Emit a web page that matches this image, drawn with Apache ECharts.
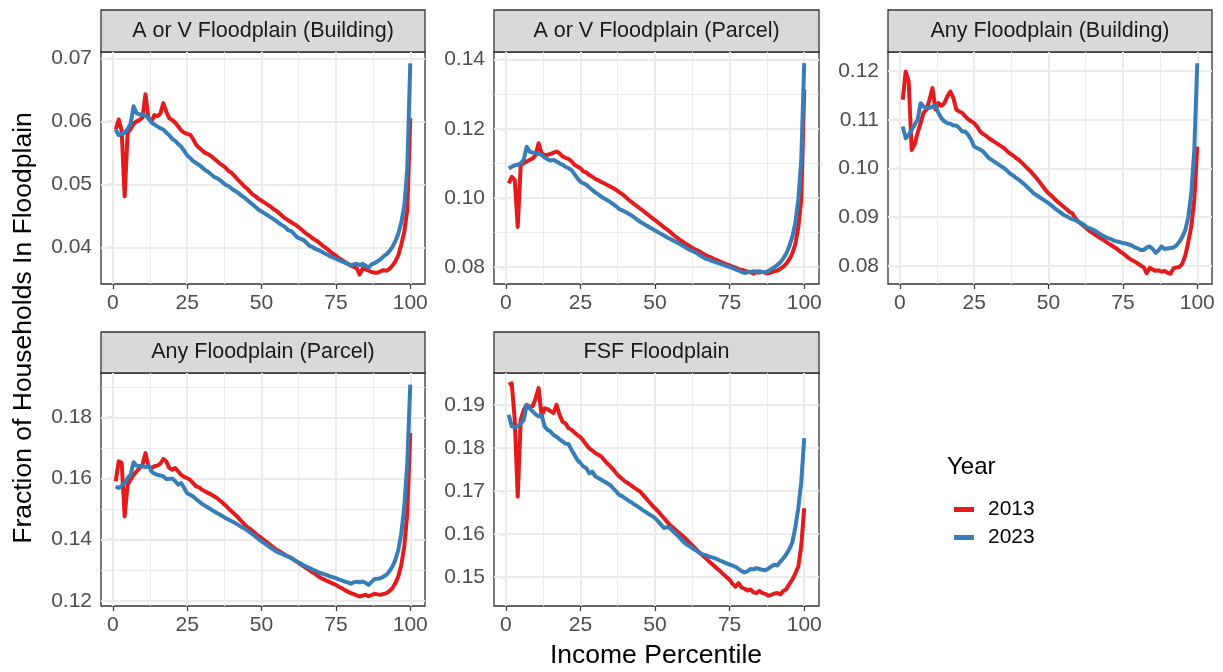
<!DOCTYPE html>
<html>
<head>
<meta charset="utf-8">
<title>Floodplain by income percentile</title>
<script src="https://cdn.jsdelivr.net/npm/echarts@6/dist/echarts.min.js"></script>
<style>
  html, body { margin: 0; padding: 0; background: #fff; }
  #chart { width: 1223px; height: 672px; }
</style>
</head>
<body>
<div id="chart"></div>
<script>
// income percentile (x)
const percentile = [
  1, 2, 3, 4, 5, 6, 7, 8, 9, 10, 11, 12, 13, 14, 15, 16, 17, 18, 19, 20,
  21, 22, 23, 24, 25, 26, 27, 28, 29, 30, 31, 32, 33, 34, 35, 36, 37, 38, 39, 40,
  41, 42, 43, 44, 45, 46, 47, 48, 49, 50, 51, 52, 53, 54, 55, 56, 57, 58, 59, 60,
  61, 62, 63, 64, 65, 66, 67, 68, 69, 70, 71, 72, 73, 74, 75, 76, 77, 78, 79, 80,
  81, 82, 83, 84, 85, 86, 87, 88, 89, 90, 91, 92, 93, 94, 95, 96, 97, 98, 99, 100
]
const years = ['2013', '2023']
const panelTitles = ['A or V Floodplain (Building)', 'A or V Floodplain (Parcel)', 'Any Floodplain (Building)', 'Any Floodplain (Parcel)', 'FSF Floodplain']

const xTicks = [0, 25, 50, 75, 100]
const xMinor = [12.5, 37.5, 62.5, 87.5]
const yTicks = [
  [0.04, 0.05, 0.06, 0.07],
  [0.08, 0.10, 0.12, 0.14],
  [0.08, 0.09, 0.10, 0.11, 0.12],
  [0.12, 0.14, 0.16, 0.18],
  [0.15, 0.16, 0.17, 0.18, 0.19]
]
const yMinor = [
  [0.035, 0.045, 0.055, 0.065],
  [0.09, 0.11, 0.13],
  [0.085, 0.095, 0.105, 0.115],
  [0.13, 0.15, 0.17, 0.19],
  [0.145, 0.155, 0.165, 0.175, 0.185, 0.195]
]
const yRanges = [[0.0342, 0.0710], [0.0751, 0.1422], [0.0763, 0.1239], [0.1183, 0.1945], [0.1433, 0.1974]]

const aovBuilding2013 = [
  0.0587, 0.0603, 0.0585, 0.0481, 0.0582, 0.0588, 0.0596, 0.0600, 0.0602, 0.0606,
  0.0643, 0.0605, 0.0600, 0.0610, 0.0608, 0.0612, 0.0629, 0.0615, 0.0605, 0.0602,
  0.0598, 0.0592, 0.0586, 0.0582, 0.0580, 0.0579, 0.0572, 0.0563, 0.0558, 0.0554,
  0.0550, 0.0548, 0.0545, 0.0541, 0.0537, 0.0533, 0.0530, 0.0526, 0.0521, 0.0518,
  0.0513, 0.0508, 0.0503, 0.0498, 0.0494, 0.0489, 0.0484, 0.0481, 0.0477, 0.0474,
  0.0471, 0.0468, 0.0465, 0.0461, 0.0458, 0.0454, 0.0450, 0.0446, 0.0443, 0.0440,
  0.0437, 0.0434, 0.0430, 0.0426, 0.0422, 0.0419, 0.0415, 0.0412, 0.0409, 0.0405,
  0.0401, 0.0398, 0.0394, 0.0390, 0.0387, 0.0383, 0.0380, 0.0377, 0.0374, 0.0371,
  0.0369, 0.0367, 0.0357, 0.0367, 0.0365, 0.0363, 0.0361, 0.0360, 0.0360, 0.0362,
  0.0364, 0.0363, 0.0366, 0.0371, 0.0378, 0.0388, 0.0405, 0.0425, 0.0460, 0.0605
]
const aovBuilding2023 = [
  0.0587, 0.0578, 0.0580, 0.0582, 0.0588, 0.0596, 0.0624, 0.0613, 0.0611, 0.0611,
  0.0609, 0.0605, 0.0598, 0.0595, 0.0592, 0.0589, 0.0587, 0.0582, 0.0578, 0.0572,
  0.0569, 0.0564, 0.0560, 0.0553, 0.0546, 0.0542, 0.0537, 0.0534, 0.0531, 0.0527,
  0.0523, 0.0520, 0.0516, 0.0512, 0.0510, 0.0507, 0.0503, 0.0499, 0.0497, 0.0493,
  0.0490, 0.0487, 0.0483, 0.0480, 0.0476, 0.0472, 0.0468, 0.0464, 0.0460, 0.0457,
  0.0454, 0.0451, 0.0448, 0.0445, 0.0442, 0.0438, 0.0435, 0.0432, 0.0427, 0.0426,
  0.0421, 0.0416, 0.0414, 0.0412, 0.0408, 0.0403, 0.0401, 0.0398, 0.0396, 0.0394,
  0.0391, 0.0389, 0.0386, 0.0384, 0.0382, 0.0380, 0.0378, 0.0376, 0.0374, 0.0372,
  0.0373, 0.0374, 0.0372, 0.0374, 0.0371, 0.0368, 0.0373, 0.0375, 0.0378, 0.0381,
  0.0386, 0.0389, 0.0394, 0.0401, 0.0410, 0.0422, 0.0440, 0.0466, 0.0525, 0.0692
]
const aovParcel2013 = [
  0.1042, 0.1061, 0.1052, 0.0916, 0.1095, 0.1100, 0.1105, 0.1110, 0.1114, 0.1124,
  0.1158, 0.1129, 0.1124, 0.1125, 0.1127, 0.1131, 0.1134, 0.1129, 0.1120, 0.1116,
  0.1113, 0.1106, 0.1096, 0.1091, 0.1086, 0.1077, 0.1073, 0.1066, 0.1061, 0.1055,
  0.1051, 0.1046, 0.1042, 0.1037, 0.1033, 0.1028, 0.1023, 0.1017, 0.1011, 0.1004,
  0.0996, 0.0989, 0.0982, 0.0976, 0.0969, 0.0963, 0.0956, 0.0949, 0.0942, 0.0936,
  0.0929, 0.0922, 0.0915, 0.0909, 0.0902, 0.0894, 0.0887, 0.0881, 0.0875, 0.0869,
  0.0864, 0.0858, 0.0853, 0.0849, 0.0845, 0.0839, 0.0834, 0.0830, 0.0827, 0.0822,
  0.0819, 0.0815, 0.0811, 0.0808, 0.0805, 0.0801, 0.0798, 0.0794, 0.0792, 0.0790,
  0.0787, 0.0785, 0.0781, 0.0785, 0.0784, 0.0786, 0.0783, 0.0782, 0.0785, 0.0788,
  0.0790, 0.0795, 0.0801, 0.0810, 0.0822, 0.0839, 0.0866, 0.0914, 0.0994, 0.1313
]
const aovParcel2023 = [
  0.1085, 0.1090, 0.1094, 0.1096, 0.1100, 0.1110, 0.1148, 0.1134, 0.1131, 0.1129,
  0.1128, 0.1124, 0.1117, 0.1112, 0.1108, 0.1110, 0.1105, 0.1100, 0.1096, 0.1090,
  0.1086, 0.1081, 0.1069, 0.1057, 0.1047, 0.1042, 0.1038, 0.1030, 0.1023, 0.1016,
  0.1010, 0.1004, 0.0998, 0.0993, 0.0988, 0.0982, 0.0975, 0.0968, 0.0964, 0.0960,
  0.0955, 0.0950, 0.0944, 0.0937, 0.0931, 0.0926, 0.0921, 0.0916, 0.0911, 0.0906,
  0.0901, 0.0896, 0.0891, 0.0886, 0.0882, 0.0877, 0.0873, 0.0868, 0.0863, 0.0858,
  0.0853, 0.0848, 0.0845, 0.0840, 0.0834, 0.0829, 0.0824, 0.0822, 0.0818, 0.0815,
  0.0812, 0.0809, 0.0806, 0.0803, 0.0800, 0.0797, 0.0793, 0.0790, 0.0786, 0.0783,
  0.0785, 0.0786, 0.0788, 0.0787, 0.0788, 0.0786, 0.0785, 0.0789, 0.0794, 0.0800,
  0.0806, 0.0814, 0.0825, 0.0839, 0.0860, 0.0887, 0.0926, 0.0994, 0.1110, 0.1390
]
const anyBuilding2013 = [
  0.1141, 0.1199, 0.1179, 0.1038, 0.1049, 0.1073, 0.1093, 0.1114, 0.1121, 0.1141,
  0.1165, 0.1121, 0.1134, 0.1129, 0.1134, 0.1148, 0.1158, 0.1145, 0.1121, 0.1117,
  0.1114, 0.1107, 0.1101, 0.1097, 0.1093, 0.1086, 0.1076, 0.1071, 0.1067, 0.1062,
  0.1058, 0.1054, 0.1050, 0.1046, 0.1042, 0.1036, 0.1031, 0.1027, 0.1022, 0.1018,
  0.1012, 0.1006, 0.1000, 0.0994, 0.0987, 0.0980, 0.0972, 0.0964, 0.0956, 0.0949,
  0.0944, 0.0938, 0.0932, 0.0927, 0.0922, 0.0917, 0.0911, 0.0908, 0.0898, 0.0891,
  0.0886, 0.0881, 0.0876, 0.0871, 0.0867, 0.0863, 0.0859, 0.0855, 0.0851, 0.0847,
  0.0843, 0.0839, 0.0835, 0.0830, 0.0826, 0.0821, 0.0816, 0.0812, 0.0809, 0.0805,
  0.0801, 0.0797, 0.0785, 0.0796, 0.0793, 0.0790, 0.0791, 0.0788, 0.0790, 0.0786,
  0.0784, 0.0795, 0.0797, 0.0798, 0.0805, 0.0822, 0.0850, 0.0881, 0.0936, 0.1045
]
const anyBuilding2023 = [
  0.1086, 0.1062, 0.1069, 0.1079, 0.1090, 0.1100, 0.1134, 0.1127, 0.1124, 0.1124,
  0.1127, 0.1129, 0.1114, 0.1103, 0.1097, 0.1093, 0.1092, 0.1088, 0.1088, 0.1083,
  0.1076, 0.1076, 0.1069, 0.1059, 0.1045, 0.1042, 0.1039, 0.1035, 0.1028, 0.1021,
  0.1017, 0.1013, 0.1009, 0.1005, 0.1001, 0.0996, 0.0990, 0.0986, 0.0981, 0.0977,
  0.0972, 0.0967, 0.0961, 0.0955, 0.0949, 0.0945, 0.0941, 0.0937, 0.0933, 0.0929,
  0.0924, 0.0919, 0.0914, 0.0910, 0.0905, 0.0902, 0.0899, 0.0896, 0.0894, 0.0891,
  0.0888, 0.0884, 0.0879, 0.0877, 0.0874, 0.0871, 0.0867, 0.0863, 0.0860, 0.0857,
  0.0855, 0.0852, 0.0850, 0.0849, 0.0847, 0.0846, 0.0844, 0.0842, 0.0838, 0.0836,
  0.0833, 0.0833, 0.0838, 0.0840, 0.0835, 0.0827, 0.0832, 0.0840, 0.0835, 0.0836,
  0.0837, 0.0838, 0.0842, 0.0850, 0.0860, 0.0874, 0.0901, 0.0949, 0.1038, 0.1216
]
const anyParcel2013 = [
  0.1591, 0.1656, 0.1651, 0.1476, 0.1580, 0.1596, 0.1612, 0.1623, 0.1634, 0.1645,
  0.1683, 0.1640, 0.1634, 0.1640, 0.1642, 0.1648, 0.1664, 0.1656, 0.1634, 0.1629,
  0.1634, 0.1623, 0.1612, 0.1605, 0.1601, 0.1596, 0.1585, 0.1574, 0.1571, 0.1563,
  0.1558, 0.1553, 0.1548, 0.1542, 0.1536, 0.1528, 0.1520, 0.1511, 0.1501, 0.1492,
  0.1483, 0.1474, 0.1463, 0.1453, 0.1443, 0.1436, 0.1428, 0.1420, 0.1412, 0.1405,
  0.1397, 0.1390, 0.1382, 0.1375, 0.1367, 0.1362, 0.1356, 0.1350, 0.1345, 0.1340,
  0.1333, 0.1327, 0.1320, 0.1314, 0.1307, 0.1301, 0.1294, 0.1288, 0.1281, 0.1274,
  0.1270, 0.1265, 0.1261, 0.1256, 0.1252, 0.1246, 0.1241, 0.1235, 0.1230, 0.1225,
  0.1222, 0.1218, 0.1214, 0.1217, 0.1220, 0.1215, 0.1219, 0.1223, 0.1221, 0.1220,
  0.1222, 0.1225, 0.1232, 0.1241, 0.1258, 0.1280, 0.1318, 0.1378, 0.1487, 0.1749
]
const anyParcel2023 = [
  0.1574, 0.1569, 0.1576, 0.1585, 0.1601, 0.1612, 0.1653, 0.1642, 0.1640, 0.1640,
  0.1637, 0.1642, 0.1623, 0.1616, 0.1612, 0.1610, 0.1607, 0.1598, 0.1598, 0.1600,
  0.1591, 0.1580, 0.1585, 0.1569, 0.1552, 0.1547, 0.1541, 0.1533, 0.1525, 0.1517,
  0.1511, 0.1505, 0.1499, 0.1493, 0.1487, 0.1482, 0.1476, 0.1470, 0.1465, 0.1460,
  0.1455, 0.1449, 0.1443, 0.1438, 0.1432, 0.1425, 0.1418, 0.1410, 0.1402, 0.1394,
  0.1388, 0.1381, 0.1374, 0.1368, 0.1361, 0.1357, 0.1353, 0.1348, 0.1344, 0.1340,
  0.1334, 0.1328, 0.1323, 0.1317, 0.1312, 0.1308, 0.1303, 0.1299, 0.1294, 0.1290,
  0.1287, 0.1284, 0.1280, 0.1277, 0.1274, 0.1270, 0.1267, 0.1263, 0.1260, 0.1256,
  0.1260, 0.1263, 0.1260, 0.1263, 0.1259, 0.1252, 0.1262, 0.1271, 0.1272, 0.1274,
  0.1279, 0.1285, 0.1297, 0.1312, 0.1334, 0.1367, 0.1421, 0.1509, 0.1651, 0.1907
]
const fsf2013 = [
  0.1946, 0.1950, 0.1865, 0.1687, 0.1865, 0.1888, 0.1900, 0.1896, 0.1897, 0.1915,
  0.1939, 0.1873, 0.1892, 0.1890, 0.1885, 0.1881, 0.1900, 0.1877, 0.1861, 0.1857,
  0.1846, 0.1842, 0.1836, 0.1830, 0.1825, 0.1817, 0.1807, 0.1799, 0.1794, 0.1788,
  0.1784, 0.1780, 0.1772, 0.1764, 0.1757, 0.1750, 0.1741, 0.1734, 0.1728, 0.1722,
  0.1718, 0.1713, 0.1708, 0.1703, 0.1699, 0.1691, 0.1683, 0.1675, 0.1667, 0.1660,
  0.1653, 0.1645, 0.1637, 0.1629, 0.1621, 0.1615, 0.1609, 0.1603, 0.1597, 0.1591,
  0.1584, 0.1577, 0.1570, 0.1563, 0.1556, 0.1550, 0.1544, 0.1537, 0.1531, 0.1525,
  0.1519, 0.1513, 0.1506, 0.1500, 0.1494, 0.1484, 0.1478, 0.1486, 0.1476, 0.1473,
  0.1469, 0.1471, 0.1465, 0.1463, 0.1468, 0.1463, 0.1461, 0.1457, 0.1459, 0.1462,
  0.1463, 0.1460, 0.1468, 0.1472, 0.1484, 0.1494, 0.1508, 0.1524, 0.1572, 0.1660
]
const fsf2023 = [
  0.1877, 0.1850, 0.1848, 0.1851, 0.1856, 0.1865, 0.1900, 0.1892, 0.1885, 0.1878,
  0.1873, 0.1877, 0.1850, 0.1842, 0.1838, 0.1830, 0.1826, 0.1820, 0.1815, 0.1810,
  0.1809, 0.1796, 0.1784, 0.1772, 0.1765, 0.1757, 0.1753, 0.1741, 0.1745, 0.1734,
  0.1730, 0.1726, 0.1722, 0.1718, 0.1714, 0.1706, 0.1699, 0.1691, 0.1688, 0.1683,
  0.1678, 0.1674, 0.1669, 0.1665, 0.1660, 0.1655, 0.1651, 0.1646, 0.1642, 0.1637,
  0.1630, 0.1622, 0.1614, 0.1616, 0.1614, 0.1607, 0.1600, 0.1594, 0.1586, 0.1579,
  0.1574, 0.1570, 0.1565, 0.1561, 0.1556, 0.1553, 0.1551, 0.1548, 0.1546, 0.1544,
  0.1541, 0.1538, 0.1535, 0.1532, 0.1529, 0.1527, 0.1524, 0.1519, 0.1514, 0.1511,
  0.1514, 0.1519, 0.1518, 0.1521, 0.1519, 0.1517, 0.1516, 0.1520, 0.1525, 0.1529,
  0.1527, 0.1536, 0.1544, 0.1553, 0.1565, 0.1580, 0.1615, 0.1660, 0.1720, 0.1823
]

const panelData = [
  [aovBuilding2013, aovBuilding2023],
  [aovParcel2013, aovParcel2023],
  [anyBuilding2013, anyBuilding2023],
  [anyParcel2013, anyParcel2023],
  [fsf2013, fsf2023]
]

// facet layout (pixels)
const boxes = [
  { left: 101, top: 52, width: 324, height: 232 },
  { left: 494, top: 52, width: 325, height: 232 },
  { left: 888, top: 52, width: 324, height: 232 },
  { left: 101, top: 373, width: 324, height: 233 },
  { left: 494, top: 373, width: 325, height: 233 }
]
const stripHeight = 42
const colors = ['#E41A1C', '#377EB8']
const font = '"Liberation Sans", Arial, Helvetica, sans-serif'

const major = { type: 'solid', color: '#EBEBEB', width: 2 }
const minor = { type: 'solid', color: '#EBEBEB', width: 1 }

const grids = []
const xAxes = []
const yAxes = []
const series = []
const graphics = []

boxes.forEach((b, i) => {
  grids.push({ left: b.left, top: b.top, width: b.width, height: b.height,
    show: true, borderColor: '#333333', borderWidth: 1.3, backgroundColor: '#fff',
    containLabel: false, outerBoundsMode: 'none' })
  xAxes.push({
    type: 'value', gridIndex: i, min: -3.95, max: 104.95,
    axisLine: { show: false }, splitLine: { show: false },
    axisTick: { show: true, customValues: xTicks, length: 5, lineStyle: { color: '#333333', width: 1.2 } },
    axisLabel: { customValues: xTicks, margin: 9, color: '#4D4D4D', fontSize: 21, fontFamily: font }
  })
  yAxes.push({
    type: 'value', gridIndex: i, min: yRanges[i][0], max: yRanges[i][1],
    axisLine: { show: false }, splitLine: { show: false },
    axisTick: { show: true, customValues: yTicks[i], length: 5, lineStyle: { color: '#333333', width: 1.2 } },
    axisLabel: { customValues: yTicks[i], margin: 9, color: '#4D4D4D', fontSize: 21, fontFamily: font,
      formatter: v => v.toFixed(2) }
  })
  const gridLines = [
    ...xMinor.map(v => ({ xAxis: v, lineStyle: minor })),
    ...yMinor[i].map(v => ({ yAxis: v, lineStyle: minor })),
    ...xTicks.map(v => ({ xAxis: v, lineStyle: major })),
    ...yTicks[i].map(v => ({ yAxis: v, lineStyle: major }))
  ]
  panelData[i].forEach((vals, k) => {
    const s = {
      name: years[k], type: 'line', xAxisIndex: i, yAxisIndex: i,
      data: percentile.map((p, j) => [p, vals[j]]),
      showSymbol: false, symbol: 'none', clip: true, z: 2 + k,
      itemStyle: { color: colors[k] },
      lineStyle: { color: colors[k], width: 4, join: 'round' }
    }
    if (k === 0) {
      s.markLine = { silent: true, z: 1, symbol: ['none', 'none'], label: { show: false },
        emphasis: { disabled: true }, animation: false, data: gridLines }
    }
    series.push(s)
  })
  // facet strip
  const sy = b.top - stripHeight + (i >= 3 ? 1 : 0)
  graphics.push({
    type: 'rect', shape: { x: b.left, y: sy, width: b.width, height: b.top - sy },
    style: { fill: '#D9D9D9', stroke: '#333333', lineWidth: 1.3 }
  })
  graphics.push({
    type: 'text', x: b.left + b.width / 2, y: sy + (b.top - sy) / 2,
    style: { text: panelTitles[i], fill: '#1A1A1A', font: '21.5px ' + font, align: 'center', verticalAlign: 'middle' }
  })
})

graphics.push({
  type: 'text', x: 24, y: 328, rotation: Math.PI / 2,
  style: { text: 'Fraction of Households In Floodplain', fill: '#000', font: '26.5px ' + font, align: 'center', verticalAlign: 'middle' }
})
graphics.push({
  type: 'text', x: 656, y: 656,
  style: { text: 'Income Percentile', fill: '#000', font: '26.5px ' + font, align: 'center', verticalAlign: 'middle' }
})
graphics.push({
  type: 'text', x: 947, y: 467,
  style: { text: 'Year', fill: '#000', font: '24px ' + font, align: 'left', verticalAlign: 'middle' }
})

const chart = echarts.init(document.getElementById('chart'))
chart.setOption({
  animation: false,
  backgroundColor: '#fff',
  grid: grids,
  xAxis: xAxes,
  yAxis: yAxes,
  series: series,
  legend: {
    data: years, orient: 'vertical', left: 949, top: 494,
    itemWidth: 20, itemHeight: 5, itemGap: 7, icon: 'rect', selectedMode: false,
    textStyle: { fontSize: 21, lineHeight: 17, color: '#000', fontFamily: font, padding: [0, 0, 0, 9] }
  },
  graphic: graphics
})
</script>
</body>
</html>
